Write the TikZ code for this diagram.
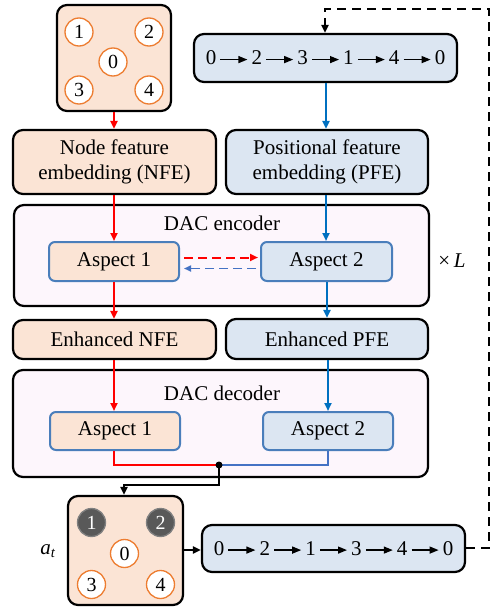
\documentclass[tikz,border=0pt]{standalone}
\usepackage{fontspec}
\setmainfont{Liberation Serif}
\usetikzlibrary{arrows.meta,calc}
\definecolor{peach}{RGB}{251,228,213}
\definecolor{lblue}{RGB}{220,230,242}
\definecolor{encbg}{RGB}{253,246,252}
\definecolor{aspbd}{RGB}{74,126,187}
\definecolor{myred}{RGB}{255,0,0}
\definecolor{myblue}{RGB}{0,112,192}
\definecolor{dblue}{RGB}{68,114,196}
\definecolor{corange}{RGB}{237,125,49}
\definecolor{cdark}{RGB}{89,89,89}
\newcommand{\sarr}{\tikz[baseline=-0.55ex]\draw[line width=1.3pt,-{Triangle[length=9pt,width=7pt]}] (0pt,0pt)--(27pt,0pt);}
\begin{document}
\begin{tikzpicture}[x=1pt,y=-1pt,
  txt/.style={font=\fontsize{21}{25}\selectfont},
  outbox/.style={txt,draw=black,line width=2.2pt,rounded corners=10pt,inner sep=0pt,align=center},
  aspbox/.style={txt,draw=aspbd,line width=2pt,rounded corners=6pt,inner sep=0pt},
  gc/.style={circle,draw=corange,line width=1.3pt,fill=white,minimum size=28pt,inner sep=0pt,font=\fontsize{20}{20}\selectfont},
  gd/.style={circle,draw=gray,line width=1.3pt,fill=cdark,text=white,minimum size=28pt,inner sep=0pt,font=\fontsize{20}{20}\selectfont},
  ra/.style={draw=myred,line width=2pt,-{Triangle[length=8pt,width=7pt]}},
  ba/.style={draw=myblue,line width=2pt,-{Triangle[length=8pt,width=7pt]}},
  ka/.style={draw=black,line width=2pt,-{Triangle[length=8pt,width=7pt]}}
]
\useasboundingbox (0,0) rectangle (493,608);

% top graph
\node[outbox,fill=peach,minimum width=114pt,minimum height=106pt] (g1) at (114,58) {};
\node[gc] (g1n1) at ($(g1)+(-35,-26)$) {1};
\node[gc] (g1n2) at ($(g1)+(35,-26)$) {2};
\node[gc] (g1n0) at ($(g1)+(-1,4)$) {0};
\node[gc] (g1n3) at ($(g1)+(-35,32)$) {3};
\node[gc] (g1n4) at ($(g1)+(35,32)$) {4};

% top sequence
\node[outbox,fill=lblue,minimum width=263pt,minimum height=48pt] (seqt) at (325.5,58) {0\,\sarr\,2\,\sarr\,3\,\sarr\,1\,\sarr\,4\,\sarr\,0};

% embeddings
\node[outbox,fill=peach,minimum width=203pt,minimum height=64pt] (nfe) at (114.5,162) {Node feature\\embedding (NFE)};
\node[outbox,fill=lblue,minimum width=202pt,minimum height=64pt] (pfe) at (327,162) {Positional feature\\embedding (PFE)};

% encoder
\node[outbox,fill=encbg,minimum width=415pt,minimum height=101pt] (enc) at (221.5,255.5) {};
\node[txt] (enct) at (222,223) {DAC encoder};
\node[aspbox,fill=peach,minimum width=130pt,minimum height=39pt] (a1e) at (114,261.5) {Aspect 1};
\node[aspbox,fill=lblue,minimum width=131pt,minimum height=39pt] (a2e) at (326.5,261.5) {Aspect 2};
\node[txt] (xl) at (452,261) {×\,\textit{L}};

% enhanced
\node[outbox,fill=peach,minimum width=203pt,minimum height=39pt] (enfe) at (114.5,339.5) {Enhanced NFE};
\node[outbox,fill=lblue,minimum width=202pt,minimum height=40pt] (epfe) at (327,339) {Enhanced PFE};

% decoder
\node[outbox,fill=encbg,minimum width=415pt,minimum height=107pt] (dec) at (220.5,423.5) {};
\node[txt] (dect) at (222,393) {DAC decoder};
\node[aspbox,fill=peach,minimum width=130pt,minimum height=38pt] (a1d) at (115,431) {Aspect 1};
\node[aspbox,fill=lblue,minimum width=130pt,minimum height=38pt] (a2d) at (328,431) {Aspect 2};
\coordinate (jn) at (219,465);

% bottom graph
\node[outbox,fill=peach,minimum width=115pt,minimum height=109pt] (g2) at (125.5,550.5) {};
\node[gd] (g2n1) at ($(g2)+(-34,-28)$) {1};
\node[gd] (g2n2) at ($(g2)+(35,-28)$) {2};
\node[gc] (g2n0) at ($(g2)+(-1,3)$) {0};
\node[gc] (g2n3) at ($(g2)+(-34,34)$) {3};
\node[gc] (g2n4) at ($(g2)+(35,34)$) {4};
\node[txt] (at) at (48,551) {\textit{a}\textsubscript{\textit{t}}};

% bottom sequence
\node[outbox,fill=lblue,minimum width=263pt,minimum height=47pt] (seqb) at (333.5,548.5) {0\,\sarr\,2\,\sarr\,1\,\sarr\,3\,\sarr\,4\,\sarr\,0};

% red flow
\draw[ra] (g1.south -| 114,0) -- (nfe.north -| 114,0);
\draw[ra] (nfe.south -| 114,0) -- (a1e.north -| 114,0);
\draw[ra] (a1e.south -| 114,0) -- (enfe.north -| 114,0);
\draw[ra] (enfe.south -| 114,0) -- (a1d.north -| 114,0);
% blue flow
\draw[ba] (seqt.south -| 326,0) -- (pfe.north -| 326,0);
\draw[ba] (pfe.south -| 326,0) -- (a2e.north -| 326,0);
\draw[ba] (a2e.south -| 327,0) -- (epfe.north -| 327,0);
\draw[ba] (epfe.south -| 328,0) -- (a2d.north -| 328,0);

% cross-aspect dashed arrows
\draw[myred,line width=2pt,dash pattern=on 9pt off 5pt,-{Triangle[length=8pt,width=7pt]}] ($(a1e.east)+(4,-4)$) -- ($(a2e.west)+(-2,-4)$);
\draw[dblue,line width=1.6pt,dash pattern=on 9pt off 5pt,-{Triangle[length=7pt,width=6pt]}] ($(a2e.west)+(-4,7)$) -- ($(a1e.east)+(4,7)$);

% decoder merge
\draw[myred,line width=1.5pt] (a1d.south -| 114,0) |- (jn);
\draw[dblue,line width=1.5pt] (a2d.south -| 328,0) |- (jn);
\fill (jn) circle (3.5pt);
\draw[ka] (jn) -- (219,485) -| (g2.north -| 124,0);

% bottom connections
\draw[ka] (g2.east |- 0,550) -- (seqb.west |- 0,550);
\draw[line width=2.2pt,dash pattern=on 9pt off 6pt,-{Triangle[length=8pt,width=7pt]}] (seqb.east |- 0,548) -- (489,548) -- (489,9) -- (325,9) -- (seqt.north -| 325,0);
\end{tikzpicture}
\end{document}
